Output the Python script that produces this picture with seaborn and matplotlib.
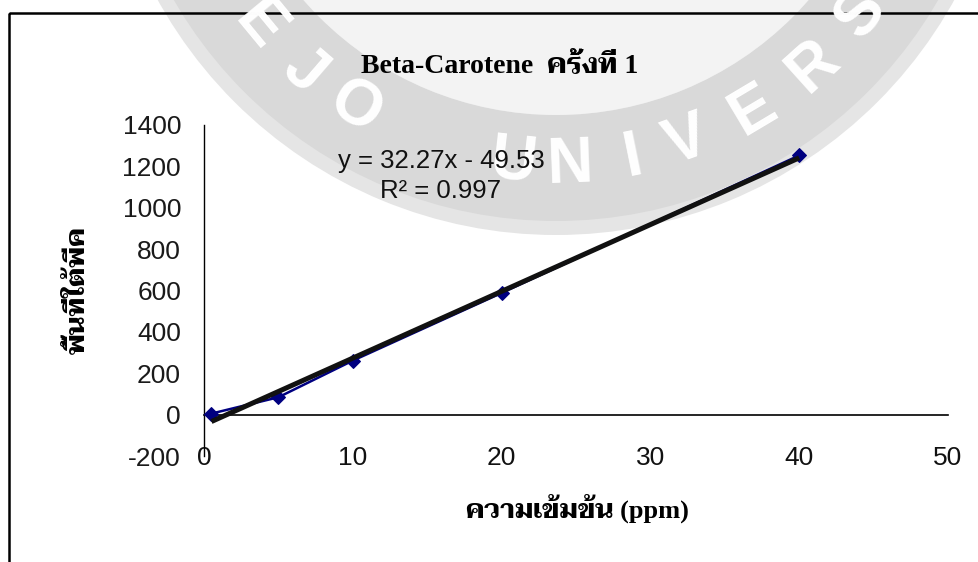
import numpy as np
import pandas as pd
import seaborn as sns
import matplotlib
matplotlib.use("Agg")
import matplotlib.pyplot as plt
from matplotlib import font_manager
from matplotlib.patches import Wedge, Rectangle

# Calibration data: concentration (ppm) vs. peak area
conc = [0.5, 5, 10, 20, 40]
area = [5, 84, 261, 588, 1253]

# Linear trendline reported for this run
SLOPE = 32.27
INTERCEPT = -49.53
R_SQUARED = 0.997

x_ticks = [0, 10, 20, 30, 40, 50]
y_ticks = [-200, 0, 200, 400, 600, 800, 1000, 1200, 1400]

title_text = "Beta-Carotene  ครั้งที่ 1"
xlabel_text = "ความเข้มข้น (ppm)"
ylabel_text = "พื้นที่ใต้พีค"

sns.set_style("white")

# pick a Thai-capable family that ships a bold face
entries = font_manager.fontManager.ttflist
def has_bold(name):
    return any(f.name == name and (f.weight in ("bold", "semibold", "heavy", "black")
               or (isinstance(f.weight, int) and f.weight >= 600)) for f in entries)

installed = {f.name for f in entries}
thai_font = None
for cand in ["Taviraj", "Trirong", "Sarabun", "Noto Serif Thai", "Noto Sans Thai"]:
    if cand in installed and has_bold(cand):
        thai_font = cand
        break
if thai_font is None:
    for cand in ["Noto Serif Thai", "Noto Sans Thai", "Sarabun", "Taviraj"]:
        if cand in installed:
            thai_font = cand
            break

serif_thai = ["Liberation Serif"] + ([thai_font] if thai_font else []) + ["DejaVu Serif"]
sans = ["Liberation Sans", "DejaVu Sans"]
plt.rcParams["font.family"] = sans
plt.rcParams["axes.unicode_minus"] = False

W, H = 979, 562
fig = plt.figure(figsize=(W / 100, H / 100), dpi=100, facecolor="white")

# --- background seal watermark (pixel coordinates, y down) ---
bg = fig.add_axes([0, 0, 1, 1], zorder=0)
bg.set_xlim(0, W)
bg.set_ylim(H, 0)
bg.axis("off")
cx, cy = 556, -220
bg.add_patch(Wedge((cx, cy), 335, 0, 360, color="#f3f3f3", lw=0))
bg.add_patch(Wedge((cx, cy), 455, 0, 360, width=15, color="#e5e5e5", lw=0))
bg.add_patch(Wedge((cx, cy), 441, 0, 360, width=106, color="#d9d9d9", lw=0))
seal_letters = [("E", -50.4), ("J", -40.8), ("O", -31.6), ("U", -6.4), ("N", 2.1),
                ("I", 11.5), ("V", 19.9), ("E", 30.8), ("R", 42.0), ("S", 52.4)]
for ch, ang in seal_letters:
    a = np.deg2rad(ang)
    px = cx + 385 * np.sin(a)
    py = cy + 385 * np.cos(a)
    bg.text(px, py, ch, color="white", fontsize=46, fontweight="bold",
            family=sans, ha="center", va="center", rotation=ang,
            rotation_mode="anchor")

# chart-area frame
bg.add_patch(Rectangle((9, 13), W, H, fill=False, edgecolor="black", lw=1.8))

# --- plot area ---
ax = fig.add_axes([204 / W, 1 - 456 / H, (948 - 204) / W, (456 - 125) / H], zorder=1)
ax.set_facecolor("none")

df = pd.DataFrame({"conc": conc, "area": area})
sns.lineplot(data=df, x="conc", y="area", ax=ax, color="#000080", lw=1.8,
             marker="D", markersize=7.5, markeredgecolor="#000080", zorder=3)

fit_x = np.array([min(conc), max(conc)])
fit = pd.DataFrame({"conc": fit_x, "area": SLOPE * fit_x + INTERCEPT})
sns.lineplot(data=fit, x="conc", y="area", ax=ax, color="#111111", lw=3.6,
             zorder=4, solid_capstyle="butt")

ax.set_xlim(0, 50)
ax.set_ylim(-200, 1400)
ax.set_xticks(x_ticks)
ax.set_yticks(y_ticks)
ax.set_xlabel("")
ax.set_ylabel("")

for side in ("top", "right"):
    ax.spines[side].set_visible(False)
ax.spines["left"].set_color("black")
ax.spines["left"].set_linewidth(1.0)
ax.spines["bottom"].set_position(("data", 0))
ax.spines["bottom"].set_color("black")
ax.spines["bottom"].set_linewidth(1.2)

ax.tick_params(axis="y", direction="out", length=5, width=1, color="#555555",
               labelsize=19, labelcolor="#1a1a1a", pad=11.5)
ax.tick_params(axis="x", direction="out", length=5, width=1, color="#777777",
               labelsize=19, labelcolor="#111111", pad=17.5)

ax.text((441 - 204) / (948 - 204), (456 - 176) / (456 - 125),
        f"y = {SLOPE}x - {abs(INTERCEPT)}\nR² = {R_SQUARED}",
        transform=ax.transAxes, ha="center", va="center", multialignment="center",
        fontsize=18.5, color="#111111", linespacing=1.35, zorder=5)

# --- titles ---
fig.text(500 / W, 1 - 73 / H, title_text, ha="center", va="baseline",
         fontsize=20, fontweight="bold", family=serif_thai, color="black")
fig.text(577 / W, 1 - 518 / H, xlabel_text, ha="center", va="baseline",
         fontsize=19, fontweight="bold", family=serif_thai, color="black")
fig.text(85 / W, 1 - 290 / H, ylabel_text, ha="center", va="baseline",
         rotation=90, rotation_mode="anchor",
         fontsize=19.5, fontweight="bold", family=serif_thai, color="black")

fig.savefig("out.png", dpi=100, facecolor="white")
